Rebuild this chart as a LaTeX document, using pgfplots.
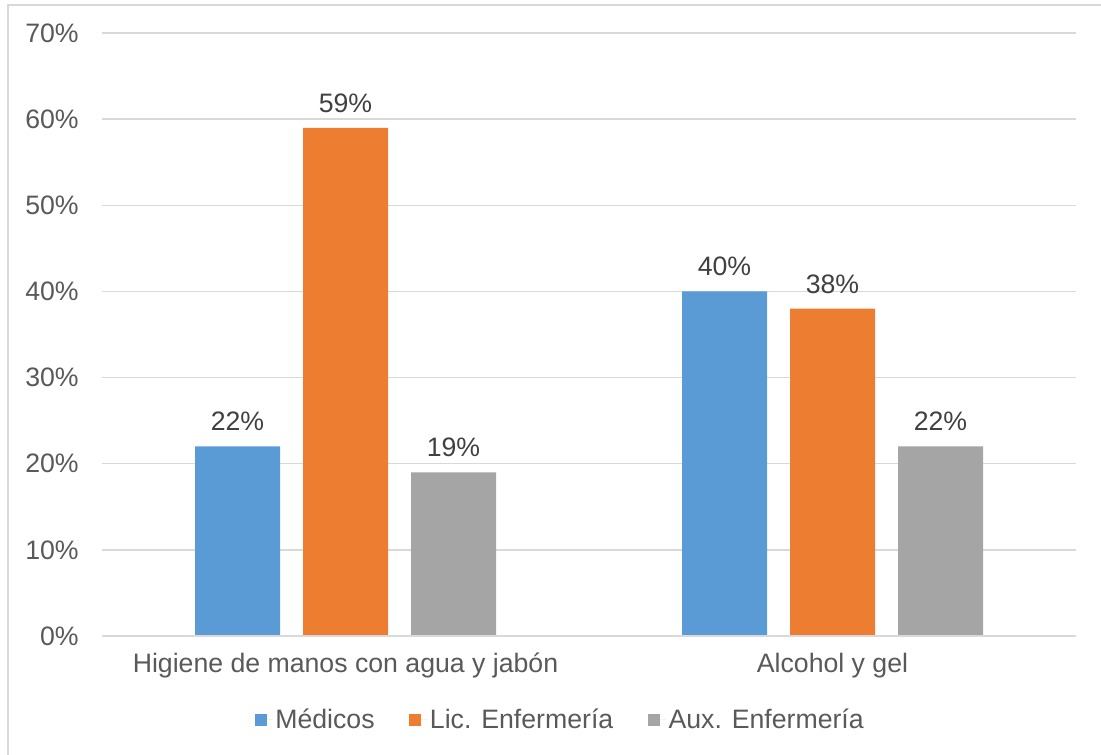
\documentclass[border=0pt]{standalone}
\usepackage{pgfplots}
\pgfplotsset{compat=1.18}
\usepackage{fontspec}
\setmainfont{Liberation Sans}
\definecolor{cblue}{HTML}{5B9BD5}
\definecolor{corange}{HTML}{ED7D31}
\definecolor{cgray}{HTML}{A5A5A5}
\definecolor{gridc}{HTML}{D9D9D9}
\definecolor{txt}{HTML}{595959}
\definecolor{lbl}{HTML}{404040}
\begin{document}
\begin{tikzpicture}
\useasboundingbox (0,0) rectangle (825.75pt,566.25pt);
\draw[gridc, line width=1.1pt] (6pt,0) -- (6pt,562.5pt) -- (825.75pt,562.5pt);
\begin{axis}[
  at={(76.5pt,89.25pt)}, anchor=south west,
  scale only axis, width=730.5pt, height=452.25pt,
  ybar=17.25pt, bar width=63.75pt,
  xmin=-0.5, xmax=1.5, ymin=0, ymax=70,
  xtick={0,1}, xticklabels={Higiene de manos con agua y jabón, Alcohol y gel},
  ytick={0,10,...,70},
  yticklabel={\pgfmathprintnumber{\tick}\%},
  /pgf/number format/assume math mode=true,
  axis line style={draw=none},
  axis x line*=bottom, axis y line*=left,
  major tick length=0pt,
  ymajorgrids, grid style={gridc, line width=1.1pt},
  tick label style={font=\fontsize{20}{24}\selectfont, text=txt},
  yticklabel style={xshift=-14pt},
  xticklabel style={yshift=-9pt},
  nodes near coords={\pgfmathprintnumber{\pgfplotspointmeta}\%},
  every node near coord/.append style={font=\fontsize{20}{24}\selectfont, text=lbl, yshift=8pt},
  legend columns=-1,
  legend style={at={(0.4708,-0.139)}, anchor=center, draw=none, fill=none,
    font=\fontsize{20}{24}\selectfont, text=txt,
    /tikz/every even column/.append style={column sep=24pt}},
  legend image code/.code={\fill[#1] (0pt,-4.5pt) rectangle (9pt,4.5pt); \path (0pt,0pt) -- (13.5pt,0pt);},
  clip=false,
]
\addplot[fill=cblue, draw=none] coordinates {(0,22) (1,40)};
\addplot[fill=corange, draw=none] coordinates {(0,59) (1,38)};
\addplot[fill=cgray, draw=none] coordinates {(0,19) (1,22)};
\draw[gridc, line width=1.1pt] (axis cs:-0.5,0) -- (axis cs:1.5,0);
\legend{Médicos, Lic. Enfermería, Aux. Enfermería}
\end{axis}
\end{tikzpicture}
\end{document}
